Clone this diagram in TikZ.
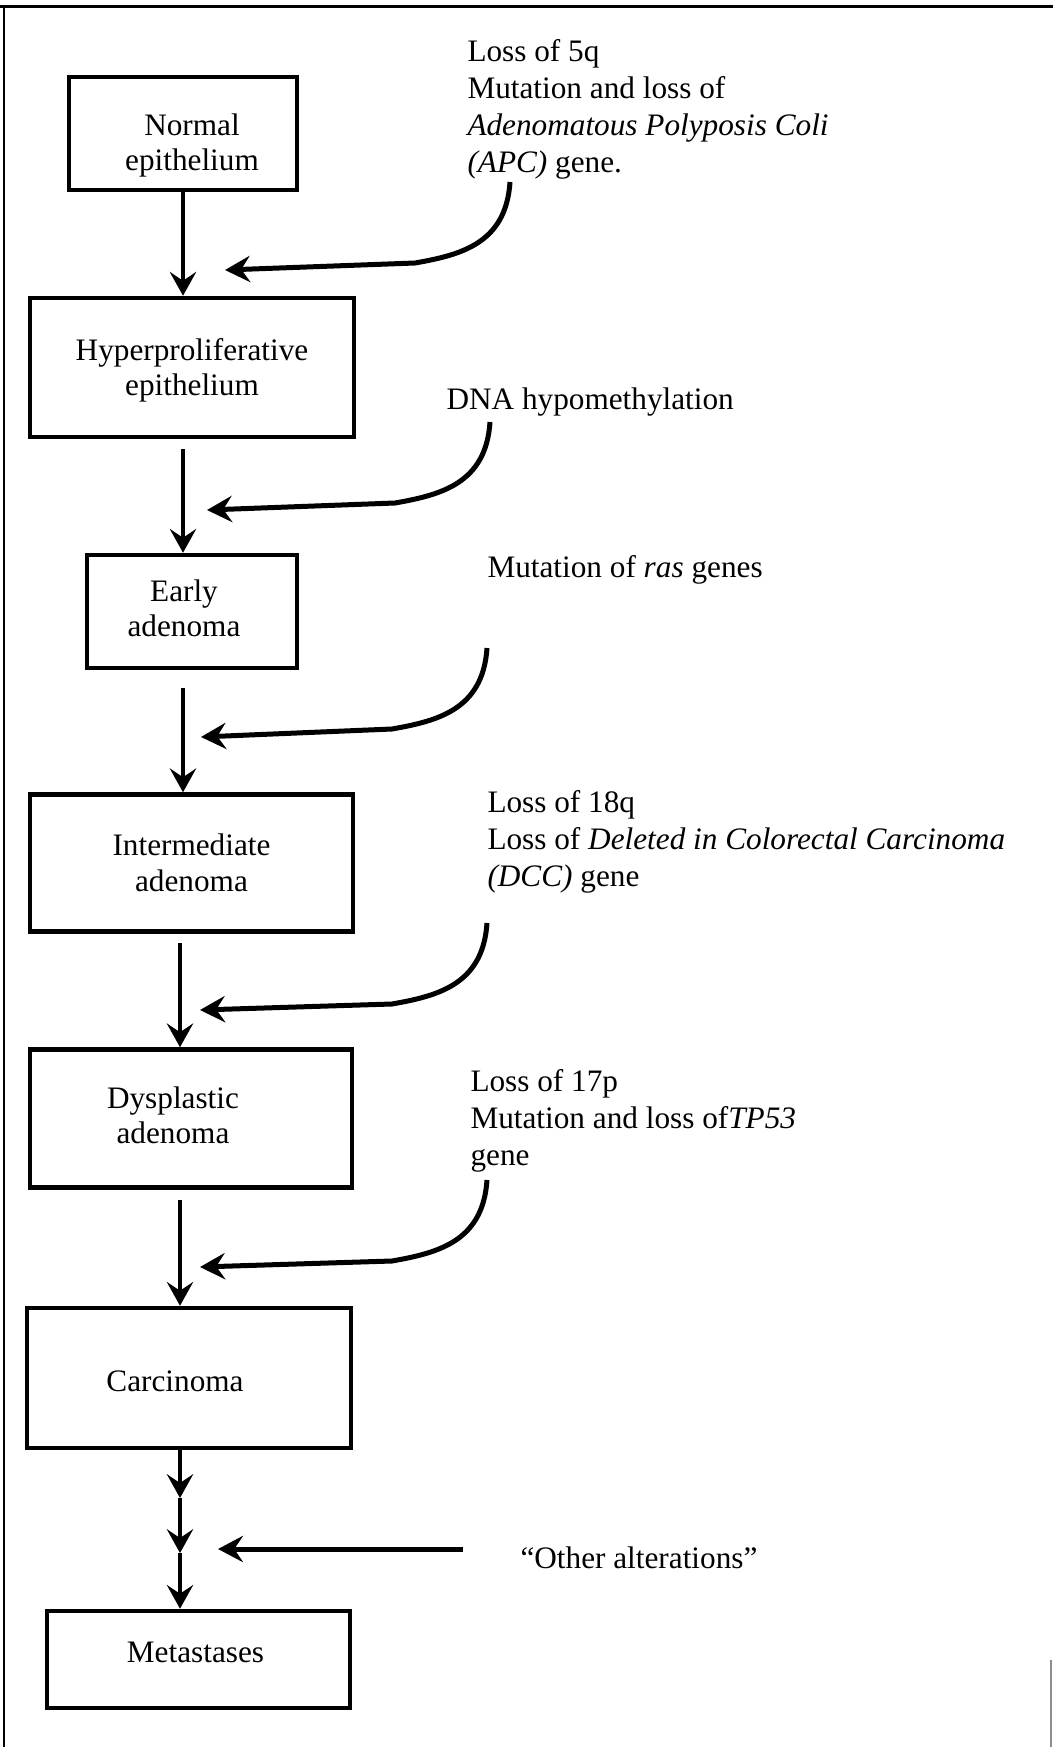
\documentclass[tikz,border=0pt]{standalone}
\usepackage{fontspec}
\setmainfont{Liberation Serif}
\usetikzlibrary{arrows.meta}
\tikzset{
  stage/.style={draw, line width=1.8pt, inner sep=0pt},
  stagetext/.style={align=center, inner sep=0pt,
    font=\fontsize{12.5}{14.2}\selectfont},
  note/.style={anchor=base west, align=left, inner sep=0pt,
    font=\fontsize{12.5}{14.7}\selectfont},
  flow/.style={line width=1.5pt, -{Stealth[length=9.5pt,width=10.5pt,inset=3.5pt]}},
  hit/.style={line width=2pt, -{Stealth[length=10pt,width=10.5pt,inset=3.5pt]}}
}

\begin{document}
\begin{tikzpicture}[x=0.4pt,y=-0.4pt]
			%%%%% START %%%%%
			\useasboundingbox (0,0) rectangle (1053,1747);
			
			\draw[line width=1.2pt] (0,6) -- (1053,6);
			\draw[line width=0.9pt] (4,6) -- (4,1747);
			\draw[line width=0.6pt, black!45] (1051,1660) -- (1051,1747);
			
			\coordinate (ax) at (183,0);
			\coordinate (bx) at (180,0);
			
			% stages
			\node[stage, minimum width=91.2pt, minimum height=45.2pt] (normal) at (183,133.5) {};
			\node[stage, minimum width=129.6pt, minimum height=55.6pt] (hyper) at (192,367.5) {};
			\node[stage, minimum width=84pt, minimum height=45.2pt] (early) at (192,611.5) {};
			\node[stage, minimum width=129.2pt, minimum height=54.8pt] (inter) at (191.5,863) {};
			\node[stage, minimum width=128.8pt, minimum height=55.2pt] (dysp) at (191,1118.5) {};
			\node[stage, minimum width=129.6pt, minimum height=56pt] (carc) at (189,1378) {};
			\node[stage, minimum width=121.2pt, minimum height=38.8pt] (meta) at (198.5,1659.5) {};
			
			\node[stagetext] (normaltxt) at ([shift={(9,12)}]normal.center) {Normal\\epithelium};
			\node[stagetext] (hypertxt) at ([shift={(0,3)}]hyper.center) {Hyperproliferative\\epithelium};
			\node[stagetext] (earlytxt) at ([shift={(-8,-3)}]early.center) {Early\\adenoma};
			\node[stagetext] (intertxt) at (inter.center) {Intermediate\\adenoma};
			\node[stagetext] (dysptxt) at ([shift={(-18,-3)}]dysp.center) {Dysplastic\\adenoma};
			\node[stagetext] (carctxt) at ([shift={(-14,3)}]carc.center) {Carcinoma};
			\node[stagetext] (metatxt) at ([shift={(-3,-7)}]meta.center) {Metastases};
			
			% alterations (base = last line)
			\node[note] (apc) at (467,172) {Loss of 5q\\Mutation and loss of\\\textit{Adenomatous Polyposis Coli}\\\textit{(APC)} gene.};
			\node[note] (dna) at (446,409) {DNA hypomethylation};
			\node[note] (ras) at (487,577) {Mutation of \textit{ras} genes};
			\node[note] (dcc) at (487,886) {Loss of 18q\\Loss of \textit{Deleted in Colorectal Carcinoma}\\\textit{(DCC)} gene};
			\node[note] (tp) at (470,1165) {Loss of 17p\\Mutation and loss of\textit{TP53}\\gene};
			\node[note] (other) at (520,1568) {``Other alterations''};
			
			% main sequence
			\draw[flow] (normal.south -| ax) -- (hyper.north -| ax);
			\draw[flow, shorten <=4pt] (hyper.south -| ax) -- (early.north -| ax);
			\draw[flow, shorten <=7pt] (early.south -| ax) -- (inter.north -| ax);
			\draw[flow, shorten <=3.5pt] (inter.south -| bx) -- (dysp.north -| bx);
			\draw[flow, shorten <=4pt] (dysp.south -| bx) -- (carc.north -| bx);
			
			\coordinate (m1) at (180,1498);
			\coordinate (m2) at (180,1553);
			\draw[flow] (carc.south -| bx) -- (m1);
			\draw[flow] (m1) -- (m2);
			\draw[flow] (m2) -- (meta.north -| bx);
			
			% curved hits
			\coordinate (s1) at (510,182);  \coordinate (t1) at (225,270);
			\coordinate (s2) at (490,422);  \coordinate (t2) at (207,510);
			\coordinate (s3) at (487,648);  \coordinate (t3) at (201,737);
			\coordinate (s4) at (487,923);  \coordinate (t4) at (200,1010);
			\coordinate (s5) at (487,1180); \coordinate (t5) at (200,1267);
			\draw[hit] (s1) .. controls +(-4,62) and +(45,-8) .. +(-95,81) -- (t1);
			\draw[hit] (s2) .. controls +(-4,62) and +(45,-8) .. +(-95,81) -- (t2);
			\draw[hit] (s3) .. controls +(-4,62) and +(45,-8) .. +(-95,81) -- (t3);
			\draw[hit] (s4) .. controls +(-4,62) and +(45,-8) .. +(-95,81) -- (t4);
			\draw[hit] (s5) .. controls +(-4,62) and +(45,-8) .. +(-95,81) -- (t5);
			
			\coordinate (o1) at (463,1549);
			\coordinate (o2) at (218,1549);
			\draw[hit] (o1) -- (o2);
			
			%%%%% END %%%%%
\end{tikzpicture}
\end{document}
